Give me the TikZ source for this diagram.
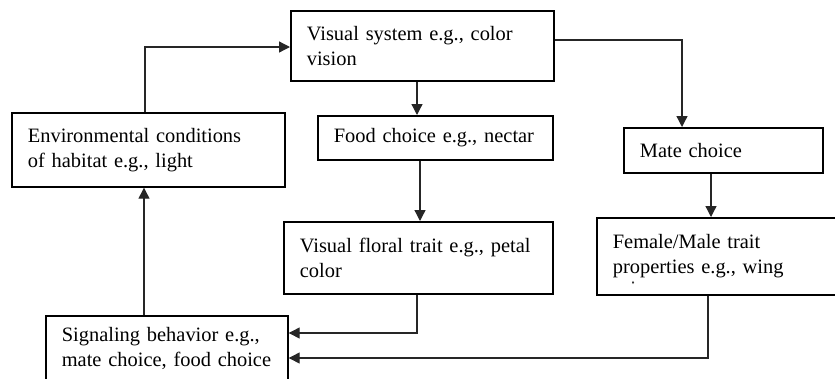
\documentclass[tikz,border=0pt]{standalone}
\usepackage{fontspec}
\setmainfont{Liberation Serif}
\usetikzlibrary{arrows.meta}
\begin{document}
\begin{tikzpicture}[x=1bp, y=-1bp,
  bx/.style={draw=black, line width=1.7bp, anchor=north west, align=left,
    inner xsep=16bp, inner ysep=0bp,
    font=\fontsize{20.5}{25}\selectfont},
  link/.style={draw=black!85, line width=1.3bp,
    -{Triangle[length=11bp, width=11bp]}}]
\useasboundingbox (0,0) rectangle (835,378);
\clip (0,0) rectangle (835,378);

% boxes
\node[bx, text width=231bp, minimum width=263bp, minimum height=70bp] (vis) at (290,10)
  {Visual system e.g., color\\vision};
\node[bx, text width=241bp, minimum width=273bp, minimum height=74bp] (env) at (11,112)
  {Environmental conditions\\of habitat e.g., light};
\node[bx, text width=203bp, minimum width=235bp, minimum height=44bp] (food) at (317,115)
  {Food choice e.g., nectar};
\node[bx, text width=237bp, minimum width=269bp, minimum height=72bp] (floral) at (283,221)
  {Visual floral trait e.g., petal\\color};
\node[bx, text width=167bp, minimum width=199bp, minimum height=45bp] (mate) at (623,127)
  {Mate choice};
\node[bx, text width=232bp, minimum width=264bp, minimum height=77bp] (female) at (596,217)
  {Female/Male trait\\properties e.g., wing};
\node[bx, text width=210bp, minimum width=242bp, minimum height=66bp] (sig) at (45,315)
  {Signaling behavior e.g.,\\mate choice, food choice};

% stray mark under the second line of the trait box
\fill[black!80] (633,282.5) ellipse (1bp and 1.6bp);

% routing points
\coordinate (pEnv) at (145,47);
\coordinate (pVisR) at (682,40);
\coordinate (pFloral) at (417,333);
\coordinate (pFemale) at (708,358);

% connectors
\draw[link] (env.north -| pEnv) |- (vis.west |- pEnv);
\draw[link] (vis.south -| 417,0) -- (food.north -| 417,0);
\draw[link] (vis.east |- pVisR) -| (mate.north -| pVisR);
\draw[link] (food.south -| 420,0) -- (floral.north -| 420,0);
\draw[link] (mate.south -| 711,0) -- (female.north -| 711,0);
\draw[link] (floral.south -| pFloral) |- (sig.east |- pFloral);
\draw[link] (female.south -| pFemale) |- (sig.east |- pFemale);
\draw[link] (sig.north -| 144,0) -- (env.south -| 144,0);
\end{tikzpicture}
\end{document}
